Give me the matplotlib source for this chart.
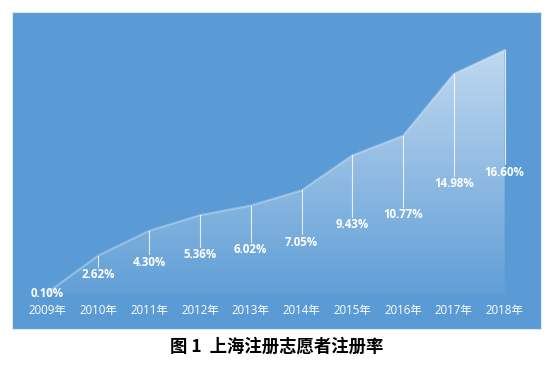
import numpy as np
import matplotlib
matplotlib.use("Agg")
import matplotlib.pyplot as plt
from matplotlib.patches import Rectangle

years = ["2009年", "2010年", "2011年", "2012年", "2013年",
         "2014年", "2015年", "2016年", "2017年", "2018年"]
rates = [0.10, 2.62, 4.30, 5.36, 6.02, 7.05, 9.43, 10.77, 14.98, 16.60]
caption = "图 1  上海注册志愿者注册率"

bg_blue = "#5b9bd5"
label_font = ["Open Sans", "Noto Sans CJK SC"]

fig = plt.figure(figsize=(5.55, 3.71), dpi=100)
fig.patch.set_facecolor("white")

# blue chart area
fig.patches.append(Rectangle((0.0216, 0.113), 0.953, 0.855, transform=fig.transFigure,
                             facecolor=bg_blue, edgecolor="#dce6f2", linewidth=0.8, zorder=-5))

ax = fig.add_axes([0.04, 0.2075, 0.915, 0.713])
ax.set_facecolor("none")
x = np.arange(len(rates))
y = np.array(rates)

# gradient fill under the line, clipped to the area
poly = ax.fill_between(x, 0, y, facecolor="none", edgecolor="none")
grad = np.zeros((256, 1, 4))
grad[:, 0, :3] = 1.0
grad[:, 0, 3] = np.linspace(0.62, 0.04, 256)
img = ax.imshow(grad, extent=[x[0], x[-1], 0, y.max()], aspect="auto",
                origin="upper", zorder=1)
img.set_clip_path(poly.get_paths()[0], transform=ax.transData)
ax.set_xlim(-0.5, len(rates) - 0.5)
ax.set_ylim(0, 18)

ax.plot(x, y, color="white", alpha=0.3, linewidth=1.6, zorder=2)
ax.plot([x[0], x[-1]], [0, 0], color="white", alpha=0.3, linewidth=0.8, zorder=2)

# drop lines ending above the labels (labels sit at half height)
for xi, v in zip(x, y):
    low = v / 2 + 0.55
    if v > low:
        ax.plot([xi, xi], [low, v], color="white", alpha=0.8, linewidth=0.8, zorder=3)
    ax.text(xi, v / 2, f"{v:.2f}%", ha="center", va="center", color="white",
            fontsize=8.3, fontweight="bold", family=label_font, zorder=4)

ax.set_xticks(x)
ax.set_xticklabels(years, family=label_font, fontsize=8.3, color="white")
ax.tick_params(axis="x", length=0, pad=7)
ax.set_yticks([])
for s in ax.spines.values():
    s.set_visible(False)

fig.text(0.498, 0.067, caption, ha="center", va="center", fontsize=12.5,
         fontweight="bold", family=["Noto Sans CJK SC", "DejaVu Sans"], color="black")

fig.savefig("out.png", dpi=100)
